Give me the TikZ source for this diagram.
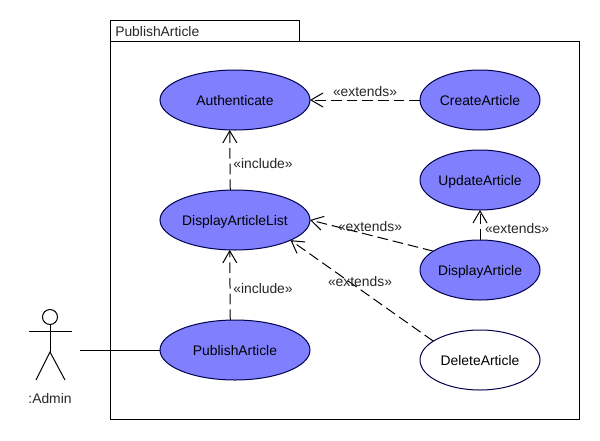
\documentclass[tikz,border=0pt]{standalone}
\usepackage{fontspec}
\setmainfont{Liberation Sans}
\usetikzlibrary{arrows.meta,shapes.geometric}
\tikzset{
  line/.style={line width=0.75pt,draw=black},
  usecase/.style={ellipse,draw=black!70!blue,line width=0.75pt,fill=ucblue,minimum height=45pt,inner sep=0pt,outer sep=0pt,text height=9.5pt,text depth=1.5pt},
  rel/.style={line,dashed,dash pattern=on 8pt off 3.75pt,-{Straight Barb[length=9pt,width=10.5pt,line width=0.75pt]}},
  lbl/.style={inner sep=0pt,text=black!85,yshift=-0.75pt},
}
\definecolor{ucblue}{RGB}{128,128,255}
\begin{document}
\begin{tikzpicture}[x=0.75pt,y=-0.75pt,font=\fontsize{10.4pt}{12pt}\selectfont]
\useasboundingbox (0,0) rectangle (600,440);
% use case: name, x, y, width, fill
\def\uc#1#2#3#4#5{
\node [usecase,minimum width=#4*0.75pt,fill=#5] (#1) at (#2,#3) {#1};
}
% package
\draw [line] (110,20) rectangle (299,41);
\draw [line] (110,41) rectangle (579,419);
\node [lbl,right] (pkglabel) at (115,31) {PublishArticle};
% actor
\node [circle,line,minimum size=11.25pt,inner sep=0pt,outer sep=0pt] (head) at (50,317) {};
\coordinate (hip) at (50,352);
\coordinate (handl) at (29,331);
\coordinate (handr) at (72,331);
\coordinate (footl) at (36,380);
\coordinate (footr) at (65,380);
\coordinate (adminport) at (80,350);
\draw [line] (head.south) -- (hip);
\draw [line] (handl) -- (handr);
\draw [line] (footl) -- (hip) -- (footr);
\node [lbl] (admin) at (50,398) {:Admin};
% use cases
\uc{Authenticate}{235}{100}{150}{ucblue}
\uc{DisplayArticleList}{235}{220}{150}{ucblue}
\uc{PublishArticle}{235}{350}{150}{ucblue}
\uc{CreateArticle}{480}{100}{120}{ucblue}
\uc{UpdateArticle}{480}{180}{120}{ucblue}
\uc{DisplayArticle}{480}{270}{120}{ucblue}
\uc{DeleteArticle}{480}{360}{120}{white}
% connectors
\draw [line] (adminport) -- (PublishArticle.west);
\draw [rel] (PublishArticle.99.5) -- (DisplayArticleList.260.5);
\draw [rel] (DisplayArticleList.99.5) -- (Authenticate.260.5);
\draw [rel] (CreateArticle.west) -- (Authenticate.east);
\draw [rel] (DisplayArticle.north) -- (UpdateArticle.south);
\draw [rel] (DisplayArticle.158) -- (DisplayArticleList.east);
\draw [rel] (DeleteArticle.158) -- (DisplayArticleList.-20);
% stereotypes
\node [lbl] (inc1) at (263,163) {«include»};
\node [lbl] (inc2) at (263,288) {«include»};
\node [lbl] (ext1) at (365,91) {«extends»};
\node [lbl] (ext2) at (370,226) {«extends»};
\node [lbl] (ext3) at (517,228) {«extends»};
\node [lbl] (ext4) at (360,281) {«extends»};
\end{tikzpicture}
\end{document}
